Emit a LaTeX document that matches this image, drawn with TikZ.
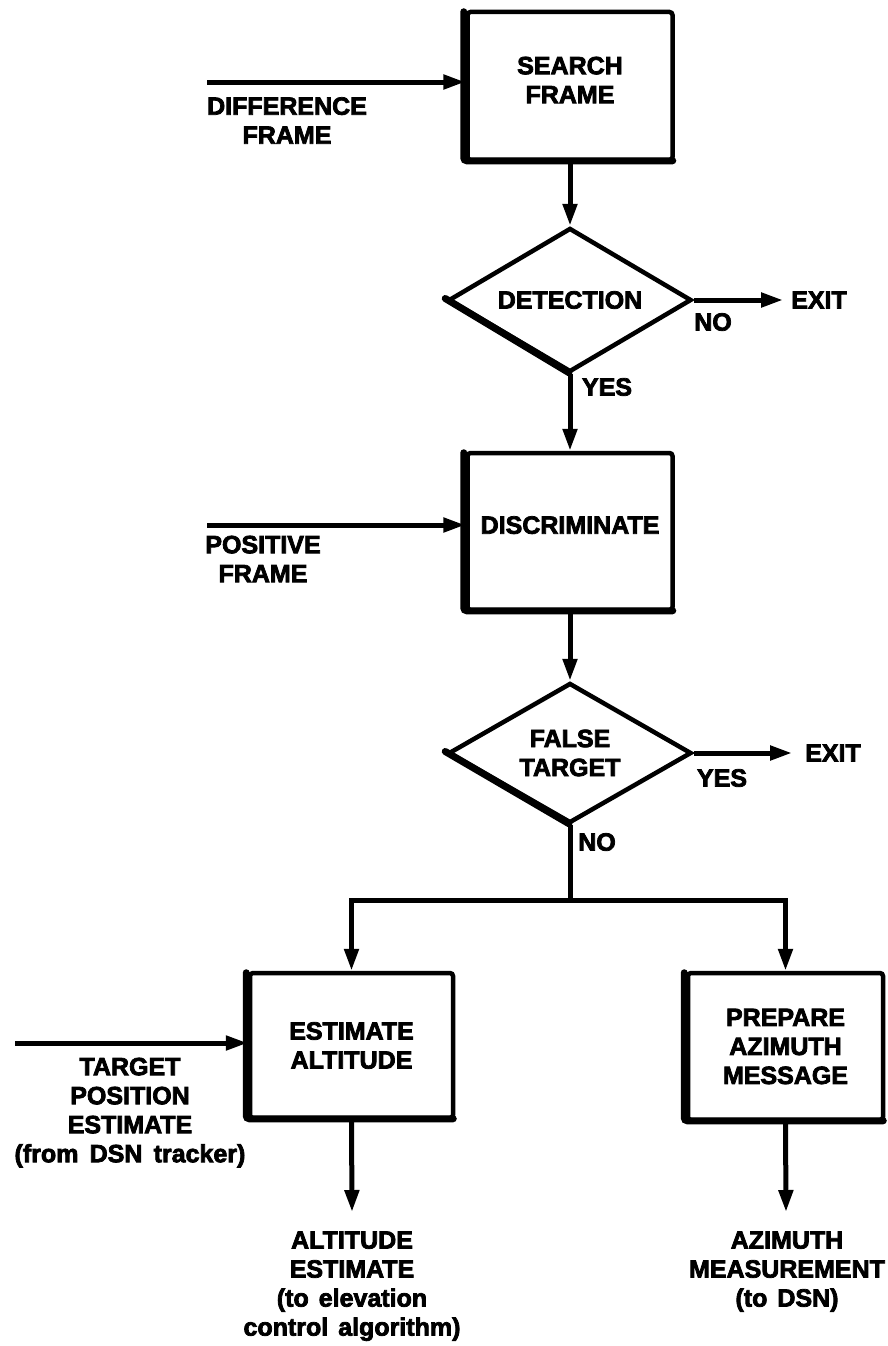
\documentclass[tikz,border=0pt]{standalone}
\usepackage{fontspec}
\setmainfont{Liberation Sans}
\newfontfamily\chartfont{Liberation Sans Bold}[FakeBold=3]
\usetikzlibrary{arrows.meta,shapes.geometric}

\begin{document}
\begin{tikzpicture}[x=1pt,y=-1pt,
  every node/.style={font=\chartfont\fontsize{25}{29}\selectfont, align=center, inner sep=0pt},
  stepbox/.style={draw, line width=4.5pt, rounded corners=3pt,
                  minimum width=205pt, minimum height=148pt},
  decision/.style={diamond, draw, line width=4.5pt, aspect=1.65,
                   minimum width=243pt, minimum height=144pt},
  flow/.style={line width=5pt, -{Triangle[length=22pt,width=14pt]}},
  plain/.style={line width=5pt},
  heavyedge/.style={line width=7pt, line cap=round},
  caption/.style={text depth=0pt}
]
\useasboundingbox (0,0) rectangle (887,1346);

% process boxes and decisions
\node[stepbox, text depth=12pt] (search) at (570,86) {SEARCH\\FRAME};
\node[decision] (detect) at (570,300) {DETECTION};
\node[stepbox, minimum height=157pt, text depth=13pt] (discr) at (570,531.5) {DISCRIMINATE};
\node[decision, minimum height=140pt] (falsetgt) at (570,753) {FALSE\\TARGET};
\node[stepbox, minimum width=203pt, minimum height=145pt] (alt) at (351.5,1045.5) {ESTIMATE\\ALTITUDE};
\node[stepbox, minimum width=195pt, minimum height=147pt] (azi) at (785.5,1046.5) {PREPARE\\AZIMUTH\\MESSAGE};

% heavier left and bottom edges
\foreach \b in {search,discr,alt,azi}{
  \draw[heavyedge, rounded corners=3pt]
    ([xshift=-1.5pt,yshift=-2pt]\b.north west) -- ([xshift=-1.5pt,yshift=1.5pt]\b.south west)
    -- ([xshift=-2pt,yshift=1.5pt]\b.south east);
}
\foreach \d in {detect,falsetgt}{
  \draw[heavyedge] ([xshift=-1pt,yshift=1.5pt]\d.west) -- ([xshift=-1pt,yshift=1.5pt]\d.south);
}

% free ends of the connectors
\coordinate (indiff) at (207,82);
\coordinate (inpos) at (207,525);
\coordinate (intgt) at (15,1043);
\coordinate (exitA) at (783,300);
\coordinate (exitB) at (792,753);
\coordinate (split) at (570,900);
\coordinate (outalt) at (352,1212);
\coordinate (outazi) at (786,1212);

% connectors
\draw[flow] (indiff) -- (indiff -| search.west);
\draw[flow] (search.south) -- (detect.north);
\draw[flow] (detect.east) -- (exitA);
\draw[flow] (detect.south) -- (discr.north);
\draw[flow] (inpos) -- (inpos -| discr.west);
\draw[flow] (discr.south) -- (falsetgt.north);
\draw[flow] (falsetgt.east) -- (exitB);
\draw[plain] (falsetgt.south) -- (split);
\draw[flow] (split) -| (alt.north);
\draw[flow] (split) -| (azi.north);
\draw[flow] (intgt) -- (intgt -| alt.west);
\draw[flow] (alt.south) -- (outalt);
\draw[flow] (azi.south) -- (outazi);

% labels
\node (exitAtxt) at (819,300) {EXIT};
\node (exitBtxt) at (833,753) {EXIT};
\node (noA) at (713,322) {NO};
\node (yesA) at (607,387) {YES};
\node (yesB) at (722,778) {YES};
\node (noB) at (597,842) {NO};
\node[caption] (diffTxt) at (287,120.5) {DIFFERENCE\\FRAME};
\node[caption] (posTxt) at (263,559) {POSITIVE\\FRAME};
\node[caption] (tgtTxt) at (130,1110) {TARGET\\POSITION\\ESTIMATE\\(from\hspace{0.45em}DSN\hspace{0.45em}tracker)};
\node[caption] (altTxt) at (352,1283.5) {ALTITUDE\\ESTIMATE\\(to\hspace{0.4em}elevation\\control\hspace{0.4em}algorithm)};
\node[caption] (aziTxt) at (787,1269) {AZIMUTH\\MEASUREMENT\\(to\hspace{0.4em}DSN)};
\end{tikzpicture}
\end{document}
